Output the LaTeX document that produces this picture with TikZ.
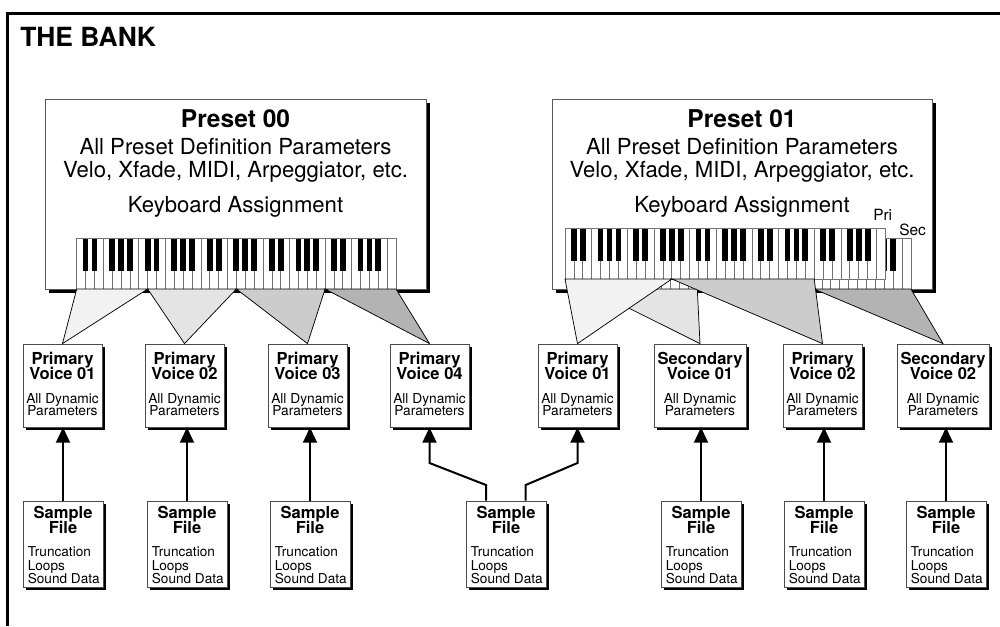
\documentclass[tikz,border=0pt]{standalone}
\usepackage{fontspec}
\setmainfont{TeX Gyre Heros}
\usetikzlibrary{arrows.meta,shadows}
\definecolor{z1}{HTML}{F2F2F2}
\definecolor{z2}{HTML}{E4E4E4}
\definecolor{z3}{HTML}{CCCCCC}
\definecolor{z4}{HTML}{B3B3B3}
\newcommand\drawkeys[3]{%
  \fill[white] (#1,#2) rectangle ++({36*#3},51);
  \foreach \k in {1,...,35} \draw[keyline] ({#1+\k*#3},#2) -- ++(0,51);
  \foreach \o in {0,...,4} \foreach \b in {1,2,4,5,6}
    \fill[black] ({#1+(7*\o+\b-0.325)*#3},#2) rectangle ++({0.65*#3},33);
  \draw[keyline] (#1,#2) rectangle ++({36*#3},51);
}
\tikzset{
  keyline/.style={draw=black!55, line width=0.5pt},
  presetbox/.style={draw=black!65, line width=0.6pt, fill=white, inner sep=0pt,
    minimum height=190*0.75pt,
    drop shadow={shadow xshift=3pt, shadow yshift=-3pt, fill=black, opacity=1}},
  vbox/.style={draw=black!70, line width=0.6pt, fill=white, inner sep=0pt,
    minimum height=83*0.75pt, minimum width=#1*0.75pt,
    drop shadow={shadow xshift=2.25pt, shadow yshift=-2.25pt, fill=black, opacity=1}},
  sbox/.style={draw=black!70, line width=0.6pt, fill=white, inner sep=0pt,
    minimum height=86*0.75pt, minimum width=80*0.75pt,
    drop shadow={shadow xshift=2.25pt, shadow yshift=-2.25pt, fill=black, opacity=1}},
  ptitle/.style={anchor=base, inner sep=0pt, font=\fontsize{18.4pt}{20pt}\selectfont\bfseries},
  ptext/.style={anchor=base, inner sep=0pt, font=\fontsize{16.6pt}{18pt}\selectfont},
  vtitle/.style={anchor=base, inner sep=0pt, font=\fontsize{12.4pt}{14pt}\selectfont\bfseries},
  vtext/.style={anchor=base, inner sep=0pt, font=\fontsize{10.3pt}{12pt}\selectfont},
  stext/.style={anchor=base west, inner sep=0pt, font=\fontsize{10.2pt}{12pt}\selectfont},
  lbl/.style={anchor=base west, inner sep=0pt, font=\fontsize{11.6pt}{13pt}\selectfont},
  zone/.style={draw=black, line width=0.55pt, line join=miter},
  arr/.style={line width=1.5pt, line join=miter, -{Triangle[length=11.5pt,width=10.5pt]}},
}
\begin{document}
\begin{tikzpicture}[x=0.75pt,y=-0.75pt]
\useasboundingbox (0,0) rectangle (1000,626);
% frame
\draw[line width=2.25pt] (7.5,626) -- (7.5,13.5) -- (1000,13.5);
\node[anchor=base west, inner sep=0pt, font=\fontsize{19.8pt}{22pt}\selectfont\bfseries] (bank) at (20,46.7) {THE BANK};

% preset boxes
\node[presetbox, minimum width=381*0.75pt, anchor=north west] (p0) at (45,99) {};
\node[presetbox, minimum width=380*0.75pt, anchor=north west] (p1) at (552,99) {};
\foreach \n/\cx/\num in {p0/235.5/00, p1/742/01} {
  \node[ptitle] (\n-t) at (\cx,127.5) {Preset \num};
  \node[ptext] (\n-a) at (\cx,154) {All Preset Definition Parameters};
  \node[ptext] (\n-b) at (\cx,177.5) {Velo, Xfade, MIDI, Arpeggiator, etc.};
  \node[ptext] (\n-c) at (\cx,212.5) {Keyboard Assignment};
}

% keyboards
\drawkeys{76.7}{238}{8.87}
\drawkeys{590.5}{238}{8.9}
\drawkeys{565}{228}{8.9}
\node[lbl] (pri) at (873,220) {Pri};
\node[lbl] (sec) at (899,235) {Sec};

% voice boxes
\foreach \i/\cx/\w/\ta/\tb in {1/62.5/79/Primary/Voice 01, 2/184.5/79/Primary/Voice 02,
    3/307.5/79/Primary/Voice 03, 4/429.5/79/Primary/Voice 04,
    5/577.5/79/Primary/Voice 01, 6/700/92/Secondary/Voice 01,
    7/822.5/79/Primary/Voice 02, 8/943/92/Secondary/Voice 02} {
  \node[vbox=\w] (v\i) at (\cx,385.5) {};
  \node[vtitle] (v\i-a) at (\cx,364.3) {\ta};
  \node[vtitle] (v\i-b) at (\cx,379) {\tb};
  \node[vtext] (v\i-c) at (\cx,403) {All Dynamic};
  \node[vtext] (v\i-d) at (\cx,415.5) {Parameters};
}

% zones
\filldraw[zone, fill=z1] (76.7,289) -- (147.7,289) -- (v1.north) -- cycle;
\filldraw[zone, fill=z2] (147.7,289) -- (236.4,289) -- (v2.north) -- cycle;
\filldraw[zone, fill=z3] (236.4,289) -- (325.1,289) -- (v3.north) -- cycle;
\filldraw[zone, fill=z4] (325.1,289) -- (396,289) -- (v4.north) -- cycle;
\filldraw[zone, fill=z2] (590.5,289) -- (697.3,289) -- (v6.north) -- cycle;
\filldraw[zone, fill=z4] (814,289) -- (910.9,289) -- (v8.north) -- cycle;
\filldraw[zone, fill=z1] (565,279) -- (671.8,279) -- (v5.north) -- cycle;
\filldraw[zone, fill=z3] (671.8,279) -- (814.2,279) -- (v7.north) -- cycle;

% sample boxes
\foreach \i/\x in {1/23, 2/147, 3/270, 4/466, 5/661, 6/784, 7/906} {
  \node[sbox] (s\i) at ({\x+40},544) {};
  \node[vtitle] (s\i-a) at ({\x+40},518.3) {Sample};
  \node[vtitle] (s\i-b) at ({\x+40},533.5) {File};
  \node[stext] (s\i-c) at ({\x+4.6},556) {Truncation};
  \node[stext] (s\i-d) at ({\x+4.6},570) {Loops};
  \node[stext] (s\i-e) at ({\x+4.6},583.5) {Sound Data};
}

% arrows
\foreach \s/\v in {1/1, 2/2, 3/3, 5/6, 6/7, 7/8}
  \draw[arr] (s\s.north) -- (s\s.north |- v\v.south);
\coordinate (la) at (486,485);
\coordinate (lb) at (429.5,463);
\coordinate (ra) at (525.7,485);
\coordinate (rb) at (577.5,463);
\draw[arr] (s4.north -| la) -- (la) -- (lb) -- (lb |- v4.south);
\draw[arr] (s4.north -| ra) -- (ra) -- (rb) -- (rb |- v5.south);
\end{tikzpicture}
\end{document}
